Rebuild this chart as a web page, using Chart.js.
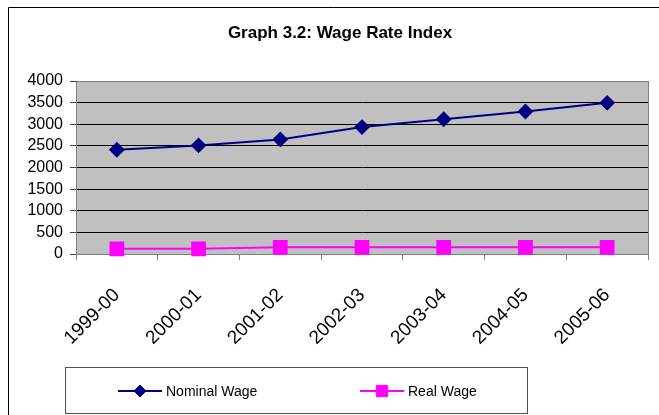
<!DOCTYPE html>
<html>
<head>
<meta charset="utf-8">
<script src="https://cdn.jsdelivr.net/npm/chart.js@4.4.1/dist/chart.umd.min.js"></script>
<style>
  html, body { margin: 0; padding: 0; background: #fff; }
  #wrap { width: 659px; height: 415px; }
</style>
</head>
<body>
<div id="wrap"><canvas id="chart" width="659" height="415"></canvas></div>
<script>
const categories = ['1999-00', '2000-01', '2001-02', '2002-03', '2003-04', '2004-05', '2005-06'];
const nominalWage = [2410, 2510, 2650, 2935, 3115, 3295, 3495];
const realWage = [120, 120, 155, 155, 155, 155, 155];
const yTickValues = [0, 500, 1000, 1500, 2000, 2500, 3000, 3500, 4000];
const chartTitle = 'Graph 3.2: Wage Rate Index';

const FONT = "'Liberation Sans', Arial, sans-serif";

// grey plot area, frame, outer border, title and boxed legend
const excelLook = {
  id: 'excelLook',
  beforeDraw(chart) {
    const { ctx, chartArea: a } = chart;
    ctx.save();
    ctx.fillStyle = '#fff';
    ctx.fillRect(0, 0, chart.width, chart.height);
    ctx.fillStyle = '#c0c0c0';
    ctx.fillRect(a.left, a.top, a.right - a.left, a.bottom - a.top);
    ctx.restore();
  },
  beforeDatasetsDraw(chart) {
    const { ctx, chartArea: a } = chart;
    ctx.save();
    ctx.strokeStyle = '#808080';
    ctx.lineWidth = 1;
    ctx.strokeRect(Math.round(a.left) + 0.5, Math.round(a.top) + 0.5,
      Math.round(a.right - a.left), Math.round(a.bottom - a.top));
    ctx.restore();
  },
  afterDraw(chart) {
    const { ctx } = chart;
    ctx.save();
    // outer chart border
    ctx.strokeStyle = '#000';
    ctx.lineWidth = 1;
    ctx.beginPath();
    ctx.moveTo(8.5, chart.height);
    ctx.lineTo(8.5, 7.5);
    ctx.lineTo(chart.width, 7.5);
    ctx.stroke();

    // title
    ctx.fillStyle = '#000';
    ctx.font = 'bold 17px ' + FONT;
    ctx.textAlign = 'center';
    ctx.textBaseline = 'middle';
    ctx.fillText(chartTitle, 340, 33);

    // legend box
    ctx.strokeStyle = '#505050';
    ctx.strokeRect(65.5, 367.5, 462, 46);
    const items = [
      { ds: chart.data.datasets[0], x: 118 },
      { ds: chart.data.datasets[1], x: 360 }
    ];
    const ly = 391;
    ctx.font = '14px ' + FONT;
    ctx.textAlign = 'left';
    items.forEach(({ ds, x }) => {
      ctx.strokeStyle = ds.borderColor;
      ctx.lineWidth = 2;
      ctx.beginPath();
      ctx.moveTo(x, ly);
      ctx.lineTo(x + 44, ly);
      ctx.stroke();
      ctx.fillStyle = ds.pointBackgroundColor;
      ctx.strokeStyle = ds.pointBorderColor;
      ctx.lineWidth = 1;
      Chart.helpers.drawPoint(ctx, {
        pointStyle: ds.pointStyle,
        radius: ds.legendRadius,
        borderWidth: 1
      }, x + 22, ly);
      ctx.fillStyle = '#000';
      ctx.fillText(ds.label, x + 48, ly + 1);
    });
    ctx.restore();
  }
};

new Chart(document.getElementById('chart'), {
  type: 'line',
  data: {
    labels: categories,
    datasets: [{
      label: 'Nominal Wage',
      data: nominalWage,
      borderColor: '#000080',
      backgroundColor: '#000080',
      pointBackgroundColor: '#000080',
      pointBorderColor: '#000080',
      borderWidth: 2,
      pointStyle: 'rectRot',
      pointRadius: 6.5,
      legendRadius: 6,
      tension: 0,
      clip: false
    }, {
      label: 'Real Wage',
      data: realWage,
      borderColor: '#ff00ff',
      backgroundColor: '#ff00ff',
      pointBackgroundColor: '#ff00ff',
      pointBorderColor: '#ff00ff',
      borderWidth: 2,
      pointStyle: 'rect',
      pointRadius: 9,
      legendRadius: 8,
      tension: 0,
      clip: false
    }]
  },
  options: {
    responsive: false,
    animation: false,
    devicePixelRatio: 1,
    layout: { padding: { left: 8, right: 7, top: 81, bottom: 56 } },
    plugins: {
      legend: { display: false },
      title: { display: false },
      tooltip: { enabled: false }
    },
    scales: {
      x: {
        offset: true,
        grid: {
          offset: true,
          drawOnChartArea: false,
          tickLength: 6,
          color: '#808080'
        },
        border: { color: '#808080' },
        ticks: {
          minRotation: 45,
          maxRotation: 45,
          autoSkip: false,
          color: '#000',
          padding: 24,
          font: { family: FONT, size: 19 }
        },
        afterFit(scale) { scale.height = 105; }
      },
      y: {
        min: yTickValues[0],
        max: yTickValues[yTickValues.length - 1],
        afterBuildTicks(scale) {
          scale.ticks = yTickValues.map(v => ({ value: v }));
        },
        ticks: {
          autoSkip: false,
          color: '#000',
          padding: 7,
          font: { family: FONT, size: 16 },
          callback: (v) => String(v)
        },
        grid: {
          color: '#000',
          tickColor: '#404040',
          tickLength: 6
        },
        border: { color: '#808080' },
        afterFit(scale) { scale.width = 68; }
      }
    }
  },
  plugins: [excelLook]
});
</script>
</body>
</html>
